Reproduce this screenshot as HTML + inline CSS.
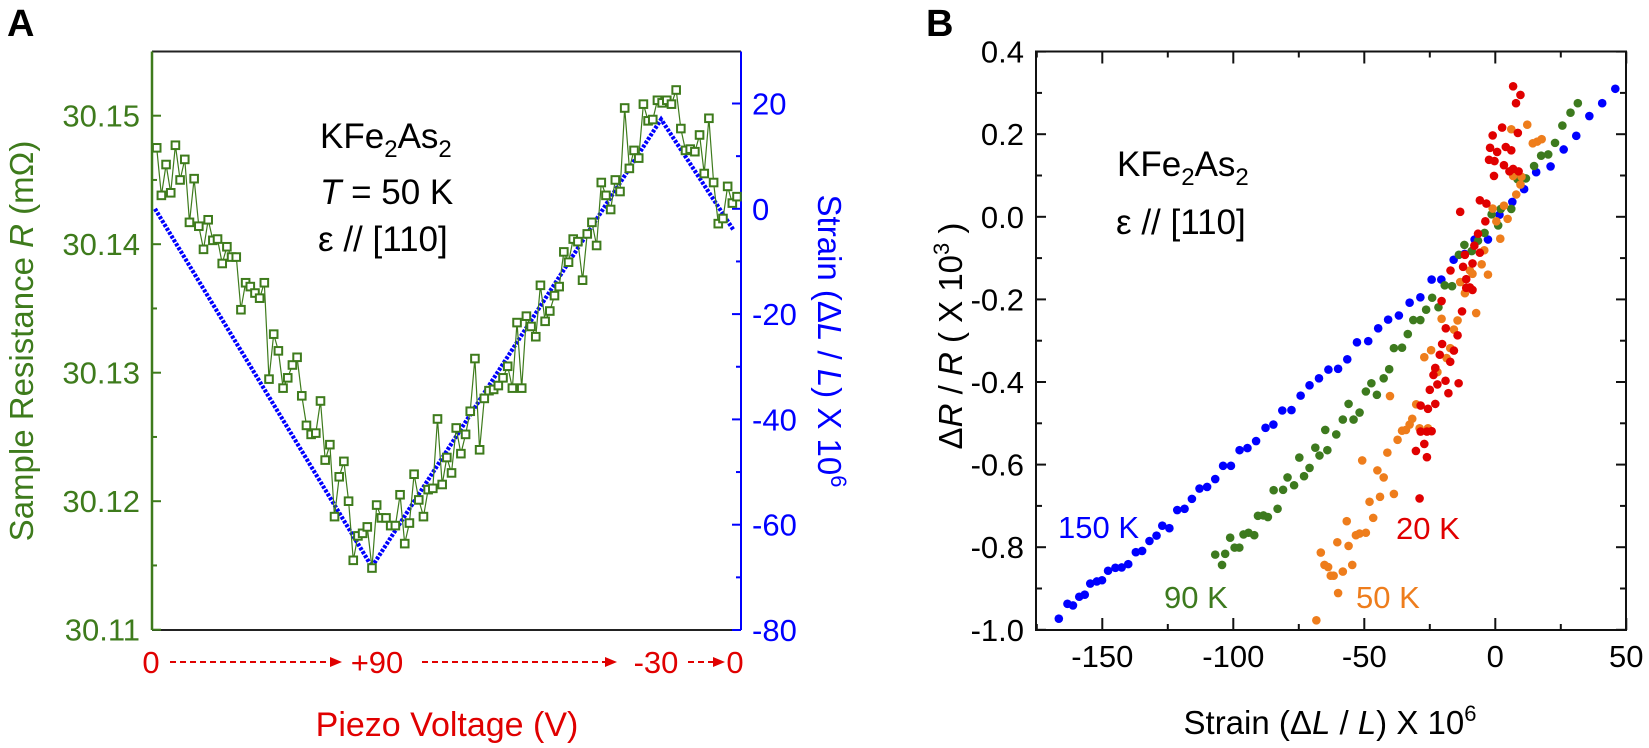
<!DOCTYPE html>
<html><head><meta charset="utf-8">
<style>
html,body{margin:0;padding:0;background:#fff;}
svg{display:block;font-family:"Liberation Sans",Arial,sans-serif;}
</style></head>
<body>
<svg id="fig" width="1649" height="748" viewBox="0 0 1649 748" xmlns="http://www.w3.org/2000/svg">
  <text x="7" y="36" font-size="38" font-weight="bold">A</text>
  <text x="926" y="36" font-size="38" font-weight="bold">B</text>
  <g id="pa"></g>
  <g id="pb"></g>
</svg>
<script>
// ---------- Panel A data ----------
const aVoltageLabels = ["0", "+90", "-30", "0"];
const aLeftTicks = [30.11, 30.12, 30.13, 30.14, 30.15];
const aRightTicks = [-80, -60, -40, -20, 0, 20];
const aStrainPath = [0, 90, 210, 240];          // cumulative voltage sweep
const aStrainValues = [0, -68, 17, -4];
const aResistance = [30.1475,30.1438,30.1462,30.1440,30.1477,30.1450,30.1466,30.1417,30.1451,30.1414,
30.1396,30.1419,30.1403,30.1404,30.1385,30.1398,30.1390,30.1390,30.1349,30.1370,
30.1367,30.1362,30.1358,30.1370,30.1295,30.1330,30.1317,30.1288,30.1296,30.1306,
30.1312,30.1282,30.1259,30.1252,30.1253,30.1278,30.1232,30.1244,30.1188,30.1219,
30.1231,30.1200,30.1154,30.1173,30.1175,30.1180,30.1148,30.1197,30.1187,30.1187,
30.1181,30.1181,30.1205,30.1167,30.1183,30.1221,30.1201,30.1188,30.1209,30.1210,
30.1264,30.1213,30.1234,30.1222,30.1257,30.1237,30.1252,30.1270,30.1311,30.1240,
30.1280,30.1286,30.1287,30.1290,30.1296,30.1305,30.1288,30.1339,30.1288,30.1344,
30.1336,30.1328,30.1368,30.1340,30.1348,30.1360,30.1367,30.1394,30.1386,30.1404,
30.1402,30.1372,30.1408,30.1417,30.1399,30.1448,30.1438,30.1427,30.1450,30.1441,
30.1506,30.1459,30.1473,30.1467,30.1509,30.1496,30.1497,30.1512,30.1510,30.1512,
30.1509,30.1520,30.1490,30.1473,30.1474,30.1472,30.1485,30.1455,30.1498,30.1448,
30.1416,30.1420,30.1445,30.1432,30.1437];

// ---------- Panel B data ----------
const bXTicks = [-150, -100, -50, 0, 50];
const bYTicks = [-1.0, -0.8, -0.6, -0.4, -0.2, 0.0, 0.2, 0.4];
const bYTickLabels = ["-1.0","-0.8","-0.6","-0.4","-0.2","0.0","0.2","0.4"];
const k150Strain = [-166.6,-163.3,-161.2,-158.8,-156.7,-154.6,-152.1,-150.1,-147.8,-145.0,-142.6,-140.1,-137.2,-134.8,-132.0,-129.3,-127.1,-124.4,-121.4,-118.6,-115.8,-112.9,-110.0,-106.9,-103.9,-100.9,-97.6,-94.6,-91.3,-87.7,-84.7,-81.3,-77.8,-74.3,-70.9,-67.3,-63.7,-60.0,-56.5,-52.8,-48.5,-44.7,-40.9,-36.8,-32.7,-28.6,-24.3,-20.6,-15.9,-11.7,-7.9,-2.8,1.6,6.5,11.0,15.6,21.1,26.1,30.9,35.9,40.8,45.8];
const k150dR = [-0.973,-0.937,-0.941,-0.920,-0.915,-0.888,-0.883,-0.880,-0.857,-0.850,-0.849,-0.841,-0.812,-0.809,-0.785,-0.772,-0.748,-0.754,-0.710,-0.707,-0.683,-0.658,-0.654,-0.635,-0.603,-0.603,-0.565,-0.560,-0.543,-0.511,-0.503,-0.469,-0.468,-0.433,-0.408,-0.391,-0.370,-0.368,-0.345,-0.304,-0.301,-0.270,-0.249,-0.239,-0.208,-0.195,-0.152,-0.152,-0.104,-0.090,-0.055,-0.055,0.005,0.036,0.067,0.108,0.122,0.163,0.196,0.244,0.275,0.310];
const k90Strain = [-106.9,-104.3,-103.1,-101.2,-99.5,-97.7,-96.1,-94.2,-92.0,-90.6,-88.5,-86.8,-83.1,-84.6,-81.0,-76.8,-79.3,-74.8,-73.0,-70.9,-67.1,-68.7,-64.1,-64.9,-60.7,-58.2,-56.0,-54.1,-51.8,-49.4,-47.3,-45.2,-42.6,-40.5,-38.7,-35.6,-33.4,-31.3,-28.6,-26.4,-24.1,-21.7,-19.3,-16.5,-13.9,-11.8,-9.0,-6.6,-4.1,-1.4,1.1,2.1,6.1,8.5,11.7,14.8,17.5,20.2,22.8,25.6,28.7,31.5];
const k90dR = [-0.818,-0.843,-0.816,-0.777,-0.801,-0.801,-0.769,-0.765,-0.771,-0.724,-0.723,-0.727,-0.707,-0.662,-0.661,-0.650,-0.631,-0.583,-0.628,-0.608,-0.578,-0.559,-0.565,-0.516,-0.527,-0.491,-0.453,-0.491,-0.474,-0.423,-0.403,-0.431,-0.391,-0.369,-0.318,-0.317,-0.284,-0.250,-0.250,-0.225,-0.196,-0.219,-0.166,-0.168,-0.092,-0.068,-0.083,-0.058,-0.039,0.006,-0.021,0.019,0.019,0.091,0.093,0.123,0.148,0.151,0.179,0.221,0.252,0.275];
const k50Strain = [-68.3,-60.0,-66.6,-65.2,-63.8,-62.8,-61.7,-58.2,-54.6,-60.3,-56.0,-56.7,-53.2,-51.8,-49.4,-46.6,-48.0,-44.0,-38.7,-45.0,-42.6,-50.8,-41.2,-37.3,-35.6,-34.1,-32.7,-31.7,-30.2,-28.9,-25.7,-40.2,-27.1,-24.5,-22.9,-22.1,-18.6,-17.2,-15.8,-14.4,-20.5,-13.4,-11.6,-9.7,-8.7,-7.3,-4.2,-5.2,-2.8,1.9,0.4,4.7,-1.0,3.3,8.0,9.6,6.8,6.1,12.2,14.3,16.0,17.7,10.0];
const k50dR = [-0.977,-0.911,-0.813,-0.843,-0.848,-0.869,-0.869,-0.859,-0.843,-0.788,-0.797,-0.737,-0.771,-0.767,-0.765,-0.729,-0.690,-0.678,-0.671,-0.614,-0.631,-0.590,-0.571,-0.540,-0.518,-0.516,-0.503,-0.489,-0.454,-0.512,-0.512,-0.434,-0.340,-0.323,-0.369,-0.376,-0.342,-0.318,-0.273,-0.251,-0.247,-0.158,-0.185,-0.130,-0.138,-0.233,-0.081,-0.115,-0.140,-0.053,-0.011,-0.005,0.020,0.027,0.054,0.078,0.099,0.212,0.223,0.178,0.182,0.188,0.097];
const k20Strain = [6.8,9.6,7.9,2.6,-1.0,8.6,4.0,-2.0,0.7,6.1,-2.4,-0.3,3.3,6.8,-0.5,5.4,8.9,-5.9,-3.4,-13.4,-3.8,-6.6,-8.0,-11.6,-5.9,-17.1,-8.7,-12.3,-11.1,-9.7,-8.7,-20.5,-11.1,-12.7,-18.9,-14.4,-20.3,-15.8,-21.2,-17.2,-22.9,-23.6,-19.0,-14.0,-25.0,-17.9,-22.1,-28.5,-25.7,-22.9,-28.5,-26.1,-24.3,-27.1,-30.3,-26.1,-28.9];
const k20dR = [0.316,0.295,0.275,0.216,0.197,0.203,0.169,0.167,0.157,0.161,0.138,0.135,0.125,0.116,0.099,0.110,0.110,0.040,0.032,0.012,-0.011,-0.041,-0.070,-0.092,-0.087,-0.130,-0.113,-0.121,-0.151,-0.171,-0.177,-0.204,-0.172,-0.229,-0.270,-0.287,-0.308,-0.324,-0.334,-0.351,-0.366,-0.383,-0.397,-0.403,-0.419,-0.427,-0.406,-0.457,-0.465,-0.453,-0.520,-0.520,-0.519,-0.550,-0.567,-0.582,-0.682];

const NS = "http://www.w3.org/2000/svg";
function mk(parent, tag, attrs, text) {
  const e = document.createElementNS(NS, tag);
  for (const k in attrs) e.setAttribute(k, attrs[k]);
  if (text !== undefined) e.textContent = text;
  parent.appendChild(e);
  return e;
}

// ===== Panel A =====
const pa = document.getElementById('pa');
const GREEN = '#3e7b1c', BLUE = '#0000ff', RED = '#e00000';
const aL = 152, aR = 741, aT = 51.5, aB = 630;
const xU = u => 155 + u * 2.41;
const xIdx = i => 156.7 + i * (737 - 156.7) / (aResistance.length - 1);
const yR = r => 115.7 - (r - 30.15) * 12850;
const yS = s => 103.5 - (s - 20) * 5.265;

let e;
e = mk(pa, 'line', {x1:aL, y1:aT, x2:aR, y2:aT, stroke:'#222', 'stroke-width':2});


e = mk(pa, 'line', {x1:aL, y1:aB, x2:aR, y2:aB, stroke:'#222', 'stroke-width':2});


e = mk(pa, 'line', {x1:aL, y1:aT, x2:aL, y2:aB, stroke:GREEN, 'stroke-width':2.5});


e = mk(pa, 'line', {x1:aR, y1:aT, x2:aR, y2:aB, stroke:BLUE, 'stroke-width':2});



aLeftTicks.forEach((v, i) => {
  const y = yR(v);
  e = mk(pa, 'line', {x1:aL, y1:y, x2:aL + 9, y2:y, stroke:GREEN, 'stroke-width':2});
  
  
  const ym = yR(v + 0.005);
  if (ym > aT) {
    e = mk(pa, 'line', {x1:aL, y1:ym, x2:aL + 5, y2:ym, stroke:GREEN, 'stroke-width':2});
    
    
  }
  e = mk(pa, 'text', {x:140, y:y + 11, 'font-size':31, fill:GREEN, 'text-anchor':'end'}, v.toFixed(2));
  
  
});
aRightTicks.forEach(v => {
  const y = yS(v);
  e = mk(pa, 'line', {x1:aR, y1:y, x2:aR - 9, y2:y, stroke:BLUE, 'stroke-width':2});
  
  
  const ym = yS(v + 10);
  if (ym > aT) {
    e = mk(pa, 'line', {x1:aR, y1:ym, x2:aR - 5, y2:ym, stroke:BLUE, 'stroke-width':2});
    
    
  }
  e = mk(pa, 'text', {x:752, y:y + 11, 'font-size':31, fill:BLUE}, String(v));
  
  
});

// voltage sweep labels
const vx = [151, 377, 656, 735];
aVoltageLabels.forEach((t, i) => {
  e = mk(pa, 'text', {x:vx[i], y:673, 'font-size':31, fill:RED, 'text-anchor':'middle'}, t);
  
  
});
[[170, 330], [422, 605], [688, 713]].forEach(seg => {
  e = mk(pa, 'line', {x1:seg[0], y1:662, x2:seg[1], y2:662, stroke:RED, 'stroke-width':2, 'stroke-dasharray':'6 4'});
  
  
  e = mk(pa, 'polygon', {points:`${seg[1]},657 ${seg[1] + 12},662 ${seg[1]},667`, fill:RED});
  
  
});
e = mk(pa, 'text', {x:447, y:736, 'font-size':34, fill:RED, 'text-anchor':'middle'}, 'Piezo Voltage (V)');



e = mk(pa, 'text', {transform:'translate(33,341) rotate(-90)', 'font-size':33, fill:GREEN, 'text-anchor':'middle'});


e.innerHTML = 'Sample Resistance <tspan font-style="italic">R</tspan> (mΩ)';
e = mk(pa, 'text', {transform:'translate(818,341) rotate(90)', 'font-size':33, fill:BLUE, 'text-anchor':'middle'});


e.innerHTML = 'Strain (Δ<tspan font-style="italic">L</tspan> / <tspan font-style="italic">L</tspan>) X 10<tspan dy="-13" font-size="22">6</tspan>';

// annotation
e = mk(pa, 'text', {x:320, y:148, 'font-size':35}, '');


e.innerHTML = 'KFe<tspan dy="9" font-size="24">2</tspan><tspan dy="-9">As</tspan><tspan dy="9" font-size="24">2</tspan>';
e = mk(pa, 'text', {x:320, y:204, 'font-size':35});


e.innerHTML = '<tspan font-style="italic">T</tspan> = 50 K';
e = mk(pa, 'text', {x:318, y:251, 'font-size':35}, 'ε // [110]');



// blue strain line
let d = aStrainPath.map((u, i) => (i ? 'L' : 'M') + xU(u).toFixed(1) + ',' + yS(aStrainValues[i]).toFixed(1)).join(' ');
e = mk(pa, 'path', {d:d, fill:'none', stroke:BLUE, 'stroke-width':4.2, 'stroke-dasharray':'3 1.5'});



// green resistance line + squares
d = aResistance.map((r, i) => (i ? 'L' : 'M') + xIdx(i).toFixed(1) + ',' + yR(r).toFixed(1)).join(' ');
e = mk(pa, 'path', {d:d, fill:'none', stroke:GREEN, 'stroke-width':1.2});


aResistance.forEach((r, i) => {
  e = mk(pa, 'rect', {x:xIdx(i) - 3.8, y:yR(r) - 3.8, width:7.6, height:7.6, fill:'#fff', stroke:GREEN, 'stroke-width':2});
  
  
});

// ===== Panel B =====
const pb = document.getElementById('pb');
const bL = 1036, bR = 1626, bT = 51.5, bB = 630;
const xB = s => 1495.3 + s * 2.62;
const yB = v => 216.8 - v * 413;

e = mk(pb, 'rect', {x:bL, y:bT, width:bR - bL, height:bB - bT, fill:'none', stroke:'#111', 'stroke-width':2});


bXTicks.forEach(v => {
  const x = xB(v);
  [[bB, -12], [bT, 12]].forEach(p => {
    e = mk(pb, 'line', {x1:x, y1:p[0], x2:x, y2:p[0] + p[1], stroke:'#111', 'stroke-width':2});
    
    
  });
  const xm = xB(v - 25);
  [[bB, -6], [bT, 6]].forEach(p => {
    e = mk(pb, 'line', {x1:xm, y1:p[0], x2:xm, y2:p[0] + p[1], stroke:'#111', 'stroke-width':2});
    
    
  });
  e = mk(pb, 'text', {x:x, y:667, 'font-size':31, 'text-anchor':'middle'}, String(v));
  
  
});
bYTicks.forEach((v, i) => {
  const y = yB(v);
  [[bL, 10], [bR, -10]].forEach(p => {
    e = mk(pb, 'line', {x1:p[0], y1:y, x2:p[0] + p[1], y2:y, stroke:'#111', 'stroke-width':2});
    
    
  });
  if (v < 0.35) {
    const ym = yB(v + 0.1);
    [[bL, 6], [bR, -6]].forEach(p => {
      e = mk(pb, 'line', {x1:p[0], y1:ym, x2:p[0] + p[1], y2:ym, stroke:'#111', 'stroke-width':2});
      
      
    });
  }
  e = mk(pb, 'text', {x:1024, y:y + 11, 'font-size':31, 'text-anchor':'end'}, bYTickLabels[i]);
  
  
});
e = mk(pb, 'text', {x:1330, y:734, 'font-size':33, 'text-anchor':'middle'});


e.innerHTML = 'Strain (Δ<tspan font-style="italic">L</tspan> / <tspan font-style="italic">L</tspan>) X 10<tspan dy="-13" font-size="22">6</tspan>';
e = mk(pb, 'text', {transform:'translate(962,336) rotate(-90)', 'font-size':33, 'text-anchor':'middle'});


e.innerHTML = 'Δ<tspan font-style="italic">R</tspan> / <tspan font-style="italic">R</tspan>  ( X 10<tspan dy="-13" font-size="22">3</tspan><tspan dy="13"> )</tspan>';

e = mk(pb, 'text', {x:1117, y:176, 'font-size':35});


e.innerHTML = 'KFe<tspan dy="9" font-size="24">2</tspan><tspan dy="-9">As</tspan><tspan dy="9" font-size="24">2</tspan>';
e = mk(pb, 'text', {x:1116, y:234, 'font-size':35}, 'ε // [110]');



const series = [
  {xs:k150Strain, ys:k150dR, c:'#0000ff', name:'series-150k'},
  {xs:k90Strain, ys:k90dR, c:'#3d7a1e', name:'series-90k'},
  {xs:k50Strain, ys:k50dR, c:'#ee7d1c', name:'series-50k'},
  {xs:k20Strain, ys:k20dR, c:'#e00000', name:'series-20k'}
];
series.forEach(s => {
  const g = mk(pb, 'g', {});
  
  
  s.xs.forEach((xv, i) => {
    const c = mk(g, 'circle', {cx:xB(xv), cy:yB(s.ys[i]), r:4.3, fill:s.c});
    
    
  });
});
[['150 K', 1058, 538, '#0000ff', 'label-150k'], ['90 K', 1164, 608, '#3d7a1e', 'label-90k'],
 ['50 K', 1356, 608, '#ee7d1c', 'label-50k'], ['20 K', 1396, 539, '#e00000', 'label-20k']].forEach(l => {
  e = mk(pb, 'text', {x:l[1], y:l[2], 'font-size':31, fill:l[3]}, l[0]);
  
  
});
</script>
</body></html>
